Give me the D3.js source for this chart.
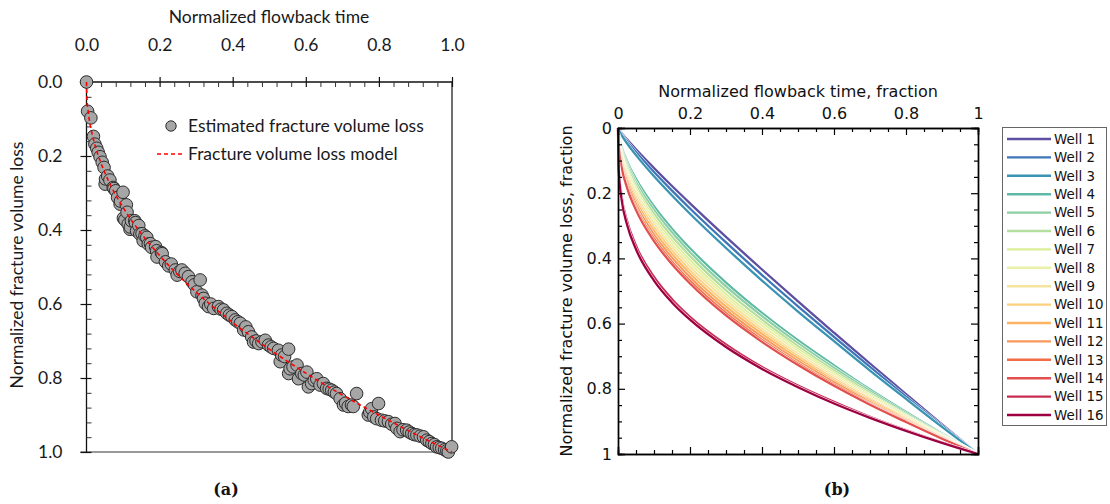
<!DOCTYPE html>
<html>
<head>
<meta charset="utf-8">
<script src="https://cdn.jsdelivr.net/npm/d3@7"></script>
<style>
  body { margin: 0; background: #fff; }
  svg { display: block; }
  .fa text { font-family: Lato, "Open Sans", sans-serif; }
  .fb text { font-family: "DejaVu Sans", Verdana, sans-serif; }
</style>
</head>
<body>
<svg id="fig" width="1110" height="504"></svg>
<script>
// ---------- Panel (a): estimated fracture volume loss ----------
const lossPoints = [
  [0,0],[0.003,0.079],[0.012,0.097],[0.019,0.147],[0.023,0.168],[0.028,0.179],[0.032,0.190],
  [0.037,0.202],[0.043,0.217],[0.048,0.231],[0.051,0.276],[0.052,0.262],[0.058,0.254],[0.064,0.265],
  [0.073,0.285],[0.075,0.288],[0.080,0.294],[0.085,0.312],[0.092,0.330],[0.093,0.322],[0.100,0.298],
  [0.101,0.368],[0.105,0.373],[0.109,0.332],[0.111,0.352],[0.114,0.384],[0.119,0.398],[0.120,0.392],
  [0.123,0.375],[0.132,0.375],[0.134,0.380],[0.137,0.402],[0.143,0.388],[0.146,0.411],[0.152,0.410],
  [0.155,0.429],[0.160,0.416],[0.165,0.420],[0.169,0.438],[0.175,0.437],[0.178,0.447],[0.189,0.445],
  [0.192,0.456],[0.193,0.473],[0.205,0.461],[0.207,0.464],[0.216,0.486],[0.225,0.497],[0.232,0.492],
  [0.243,0.508],[0.248,0.522],[0.255,0.512],[0.261,0.508],[0.270,0.517],[0.279,0.526],[0.289,0.540],
  [0.295,0.548],[0.302,0.567],[0.311,0.535],[0.316,0.576],[0.320,0.585],[0.325,0.598],[0.334,0.607],
  [0.340,0.600],[0.348,0.612],[0.361,0.607],[0.368,0.614],[0.375,0.616],[0.384,0.625],[0.391,0.630],
  [0.398,0.634],[0.407,0.643],[0.414,0.648],[0.421,0.652],[0.430,0.670],[0.436,0.662],[0.443,0.675],
  [0.452,0.689],[0.457,0.703],[0.464,0.700],[0.471,0.707],[0.480,0.702],[0.489,0.698],[0.498,0.711],
  [0.505,0.716],[0.512,0.720],[0.525,0.725],[0.530,0.756],[0.534,0.738],[0.542,0.742],[0.553,0.722],
  [0.553,0.788],[0.557,0.775],[0.565,0.770],[0.576,0.765],[0.580,0.802],[0.589,0.788],[0.596,0.792],
  [0.603,0.784],[0.607,0.824],[0.616,0.815],[0.623,0.806],[0.630,0.802],[0.639,0.819],[0.648,0.815],
  [0.657,0.828],[0.664,0.830],[0.671,0.833],[0.678,0.838],[0.684,0.842],[0.694,0.856],[0.703,0.873],
  [0.709,0.868],[0.716,0.877],[0.725,0.873],[0.730,0.877],[0.739,0.842],[0.771,0.900],[0.775,0.892],
  [0.780,0.883],[0.786,0.905],[0.794,0.910],[0.799,0.869],[0.807,0.914],[0.816,0.916],[0.826,0.918],
  [0.835,0.925],[0.844,0.923],[0.849,0.936],[0.858,0.945],[0.866,0.940],[0.876,0.941],[0.883,0.946],
  [0.890,0.950],[0.897,0.953],[0.904,0.954],[0.913,0.957],[0.922,0.959],[0.931,0.968],[0.938,0.972],
  [0.945,0.977],[0.952,0.980],[0.958,0.986],[0.965,0.988],[0.972,0.990],[0.980,0.994],[0.986,0.997],
  [0.990,1.000],[0.999,0.986]
];
const modelTime  = [0, 0.001, 0.005, 0.01, 0.02, 0.04, 0.06, 0.1, 0.15, 0.2, 0.3, 0.4, 0.5, 0.6, 0.7, 0.8, 0.9, 1];
const modelValue = [0, 0.039, 0.083, 0.115, 0.159, 0.220, 0.267, 0.339, 0.410, 0.469, 0.568, 0.650, 0.722, 0.787, 0.846, 0.900, 0.952, 1];
const ticksA = [0, 0.2, 0.4, 0.6, 0.8, 1.0];
const minorA = [0.04, 0.08, 0.12, 0.16, 0.24, 0.28, 0.32, 0.36, 0.44, 0.48, 0.52, 0.56, 0.64, 0.68, 0.72, 0.76, 0.84, 0.88, 0.92, 0.96];

// ---------- Panel (b): volume loss curves for 16 wells ----------
const curveTime = [0, 0.002, 0.01, 0.025, 0.05, 0.1, 0.15, 0.2, 0.3, 0.4, 0.5, 0.6, 0.7, 0.8, 0.9, 1];
const well1  = [0,0.0035,0.0151,0.0348,0.0655,0.123,0.178,0.231,0.334,0.434,0.532,0.628,0.723,0.816,0.909,1];
const well2  = [0,0.0045,0.0182,0.0404,0.0738,0.135,0.192,0.247,0.351,0.451,0.547,0.641,0.733,0.824,0.913,1];
const well3  = [0,0.0058,0.0219,0.0468,0.0832,0.148,0.207,0.263,0.368,0.468,0.563,0.654,0.744,0.831,0.917,1];
const well4  = [0,0.0212,0.0576,0.1016,0.156,0.240,0.309,0.369,0.474,0.567,0.651,0.728,0.802,0.871,0.937,1];
const well5  = [0,0.0240,0.0631,0.1094,0.166,0.251,0.320,0.381,0.486,0.577,0.660,0.736,0.807,0.875,0.939,1];
const well6  = [0,0.0272,0.0692,0.1177,0.176,0.263,0.333,0.393,0.498,0.588,0.669,0.744,0.813,0.879,0.941,1];
const well7  = [0,0.0308,0.0759,0.1267,0.187,0.275,0.346,0.406,0.510,0.599,0.678,0.751,0.819,0.882,0.943,1];
const well8  = [0,0.0338,0.0813,0.134,0.195,0.285,0.356,0.416,0.519,0.607,0.685,0.757,0.823,0.885,0.944,1];
const well9  = [0,0.0371,0.0871,0.142,0.204,0.295,0.366,0.426,0.528,0.616,0.693,0.763,0.828,0.889,0.946,1];
const well10 = [0,0.0407,0.0933,0.150,0.214,0.305,0.376,0.437,0.538,0.624,0.700,0.769,0.832,0.891,0.947,1];
const well11 = [0,0.0447,0.100,0.158,0.224,0.316,0.387,0.447,0.548,0.632,0.707,0.775,0.837,0.894,0.949,1];
const well12 = [0,0.0491,0.107,0.167,0.234,0.327,0.398,0.458,0.558,0.641,0.715,0.780,0.841,0.897,0.950,1];
const well13 = [0,0.0539,0.115,0.177,0.245,0.339,0.410,0.469,0.568,0.650,0.722,0.787,0.846,0.900,0.952,1];
const well14 = [0,0.0573,0.120,0.183,0.252,0.347,0.418,0.477,0.575,0.656,0.727,0.791,0.849,0.902,0.953,1];
const well15 = [0,0.121,0.209,0.285,0.361,0.457,0.525,0.579,0.664,0.733,0.790,0.840,0.886,0.927,0.965,1];
const well16 = [0,0.129,0.219,0.296,0.372,0.468,0.535,0.588,0.672,0.739,0.795,0.845,0.889,0.929,0.966,1];
const wellSeries = [well1, well2, well3, well4, well5, well6, well7, well8, well9, well10, well11, well12, well13, well14, well15, well16];
const wellNames = ["Well 1","Well 2","Well 3","Well 4","Well 5","Well 6","Well 7","Well 8",
                   "Well 9","Well 10","Well 11","Well 12","Well 13","Well 14","Well 15","Well 16"];
const wellColors = ["#5e4fa2","#3f76b7","#3a93b3","#5fbaa5","#8ccfa4","#b5df9f","#dcef98","#eaf0a8",
                    "#f5e3a0","#fdd080","#fbb462","#f8975a","#f26d45","#e2504d","#c82c52","#9e0142"];
const ticksB = [0, 0.2, 0.4, 0.6, 0.8, 1];
const tickLabelsB = ["0", "0.2", "0.4", "0.6", "0.8", "1"];
const minorB = [0.05, 0.1, 0.15, 0.25, 0.3, 0.35, 0.45, 0.5, 0.55, 0.65, 0.7, 0.75, 0.85, 0.9, 0.95];

const svg = d3.select("#fig");

// ===== Panel (a) =====
const gA = svg.append("g").attr("class", "fa");
const xA = d3.scaleLinear().domain([0, 1]).range([86.5, 452]);
const yA = d3.scaleLinear().domain([0, 1]).range([82, 452]);

// frame: right and bottom borders
gA.append("line").attr("x1", xA(1)).attr("x2", xA(1)).attr("y1", yA(0)).attr("y2", yA(1))
  .attr("stroke", "#222").attr("stroke-width", 1.3);
gA.append("line").attr("x1", xA(0) - 6).attr("x2", xA(1)).attr("y1", yA(1)).attr("y2", yA(1))
  .attr("stroke", "#777").attr("stroke-width", 1.6);

// top axis (major ticks cross the line, minor ticks point inward)
const topA = gA.append("g").attr("transform", `translate(0,${yA(0)})`)
  .call(d3.axisTop(xA).tickValues(ticksA).tickFormat(d3.format(".1f")).tickSize(5).tickPadding(26));
topA.selectAll(".tick line").attr("y1", 5);
const topMinorA = gA.append("g").attr("transform", `translate(0,${yA(0)})`)
  .call(d3.axisTop(xA).tickValues(minorA).tickFormat("").tickSize(-5));
topMinorA.select(".domain").remove();

// left axis
const leftA = gA.append("g").attr("transform", `translate(${xA(0)},0)`)
  .call(d3.axisLeft(yA).tickValues(ticksA).tickFormat(d3.format(".1f")).tickSize(6).tickPadding(18));
leftA.selectAll(".tick line").attr("x1", 5);
const leftMinorA = gA.append("g").attr("transform", `translate(${xA(0)},0)`)
  .call(d3.axisLeft(yA).tickValues(minorA).tickFormat("").tickSize(-5));
leftMinorA.select(".domain").remove();

[topA, leftA].forEach(ax => {
  ax.select(".domain").attr("stroke", "#111").attr("stroke-width", 1.3);
  ax.selectAll(".tick line").attr("stroke", "#111").attr("stroke-width", 1.2);
  ax.selectAll("text").attr("font-size", 17.5).attr("fill", "#1a1a1a");
});
[topMinorA, leftMinorA].forEach(ax => ax.selectAll(".tick line").attr("stroke", "#333").attr("stroke-width", 1));
leftA.select(".domain").attr("d", `M0,${yA(0)}V${yA(1)}`);
topA.select(".domain").attr("d", `M${xA(0)},0H${xA(1)}`);

// axis titles
gA.append("text").attr("x", 269).attr("y", 23).attr("text-anchor", "middle")
  .attr("font-size", 17.5).attr("fill", "#1a1a1a").text("Normalized flowback time");
gA.append("text").attr("transform", `translate(23,${(yA(0) + yA(1)) / 2 - 2}) rotate(-90)`)
  .attr("text-anchor", "middle").attr("font-size", 17.5).attr("fill", "#1a1a1a")
  .text("Normalized fracture volume loss");

// estimated points
gA.append("g").selectAll("circle").data(lossPoints).join("circle")
  .attr("cx", d => xA(d[0])).attr("cy", d => yA(d[1])).attr("r", 6.3)
  .attr("fill", "#a6a6a6").attr("stroke", "#2b2b2b").attr("stroke-width", 1);

// model line
const modelLine = d3.line().x((d, i) => xA(modelTime[i])).y(d => yA(d)).curve(d3.curveMonotoneX);
gA.append("path").attr("d", modelLine(modelValue)).attr("fill", "none")
  .attr("stroke", "#ff0000").attr("stroke-width", 1.6).attr("stroke-dasharray", "4,3");

// legend
gA.append("circle").attr("cx", 171).attr("cy", 126).attr("r", 5.2)
  .attr("fill", "#a6a6a6").attr("stroke", "#2b2b2b").attr("stroke-width", 1);
gA.append("text").attr("x", 188).attr("y", 126).attr("dy", "0.35em").attr("font-size", 17.5)
  .attr("fill", "#1a1a1a").text("Estimated fracture volume loss");
gA.append("line").attr("x1", 157).attr("x2", 185).attr("y1", 154).attr("y2", 154)
  .attr("stroke", "#ff0000").attr("stroke-width", 1.6).attr("stroke-dasharray", "4,3");
gA.append("text").attr("x", 188).attr("y", 154).attr("dy", "0.35em").attr("font-size", 17.5)
  .attr("fill", "#1a1a1a").text("Fracture volume loss model");

// panel tag
svg.append("text").attr("x", 226).attr("y", 495).attr("text-anchor", "middle")
  .attr("font-family", "'DejaVu Serif', 'Liberation Serif', serif").attr("font-weight", "bold")
  .attr("font-size", 16).attr("fill", "#111").text("(a)");

// ===== Panel (b) =====
const gB = svg.append("g").attr("class", "fb");
const xB = d3.scaleLinear().domain([0, 1]).range([618, 978]);
const yB = d3.scaleLinear().domain([0, 1]).range([128, 454]);

// each curve gets a thin white casing so neighbouring curves stay distinct
const wellLine = d3.line().x((d, i) => xB(curveTime[i])).y(d => yB(d)).curve(d3.curveMonotoneX);
const curveG = gB.append("g").selectAll("g").data(wellSeries.map((s, i) => ({ s, i }))).join("g");
curveG.append("path").attr("d", d => wellLine(d.s)).attr("fill", "none")
  .attr("stroke", "#fff").attr("stroke-width", 3.2);
curveG.append("path").attr("d", d => wellLine(d.s)).attr("fill", "none")
  .attr("stroke", d => wellColors[d.i]).attr("stroke-width", 2.3);

function inward(axisFn, scale, vals, size, labels, pad) {
  const a = axisFn(scale).tickValues(vals).tickSize(-size).tickPadding(pad || 3);
  a.tickFormat(labels ? (d, i) => labels[i] : "");
  return a;
}
const axesB = [
  { g: gB.append("g").attr("transform", `translate(0,${yB(0)})`), a: inward(d3.axisTop, xB, ticksB, 7, tickLabelsB, 9) },
  { g: gB.append("g").attr("transform", `translate(0,${yB(0)})`), a: inward(d3.axisTop, xB, minorB, 4) },
  { g: gB.append("g").attr("transform", `translate(0,${yB(1)})`), a: inward(d3.axisBottom, xB, ticksB, 7) },
  { g: gB.append("g").attr("transform", `translate(0,${yB(1)})`), a: inward(d3.axisBottom, xB, minorB, 4) },
  { g: gB.append("g").attr("transform", `translate(${xB(0)},0)`), a: inward(d3.axisLeft, yB, ticksB, 7, tickLabelsB, 6) },
  { g: gB.append("g").attr("transform", `translate(${xB(0)},0)`), a: inward(d3.axisLeft, yB, minorB, 4) },
  { g: gB.append("g").attr("transform", `translate(${xB(1)},0)`), a: inward(d3.axisRight, yB, ticksB, 7) },
  { g: gB.append("g").attr("transform", `translate(${xB(1)},0)`), a: inward(d3.axisRight, yB, minorB, 4) }
];
axesB.forEach(({ g, a }) => {
  g.call(a);
  g.select(".domain").attr("stroke", "#000").attr("stroke-width", 1.4);
  g.selectAll(".tick line").attr("stroke", "#000").attr("stroke-width", 1.2);
  g.selectAll("text").attr("font-size", 16).attr("fill", "#111");
});

gB.append("text").attr("x", 798).attr("y", 97).attr("text-anchor", "middle")
  .attr("font-size", 16).attr("fill", "#111").text("Normalized flowback time, fraction");
gB.append("text").attr("transform", `translate(572,${(yB(0) + yB(1)) / 2}) rotate(-90)`)
  .attr("text-anchor", "middle").attr("font-size", 16).attr("fill", "#111")
  .text("Normalized fracture volume loss, fraction");

// legend
const legB = gB.append("g");
legB.append("rect").attr("x", 1002.5).attr("y", 127.5).attr("width", 104).attr("height", 298)
  .attr("fill", "#fff").attr("stroke", "#666").attr("stroke-width", 1);
const rowsB = legB.selectAll("g.row").data(wellNames).join("g").attr("class", "row")
  .attr("transform", (d, i) => `translate(0,${139 + i * 18.4})`);
rowsB.append("line").attr("x1", 1007).attr("x2", 1051).attr("stroke", (d, i) => wellColors[i]).attr("stroke-width", 2.4);
rowsB.append("text").attr("x", 1054).attr("dy", "0.35em").attr("font-size", 13.4).attr("fill", "#111").text(d => d);

svg.append("text").attr("x", 837).attr("y", 495).attr("text-anchor", "middle")
  .attr("font-family", "'DejaVu Serif', 'Liberation Serif', serif").attr("font-weight", "bold")
  .attr("font-size", 16).attr("fill", "#111").text("(b)");
</script>
</body>
</html>
